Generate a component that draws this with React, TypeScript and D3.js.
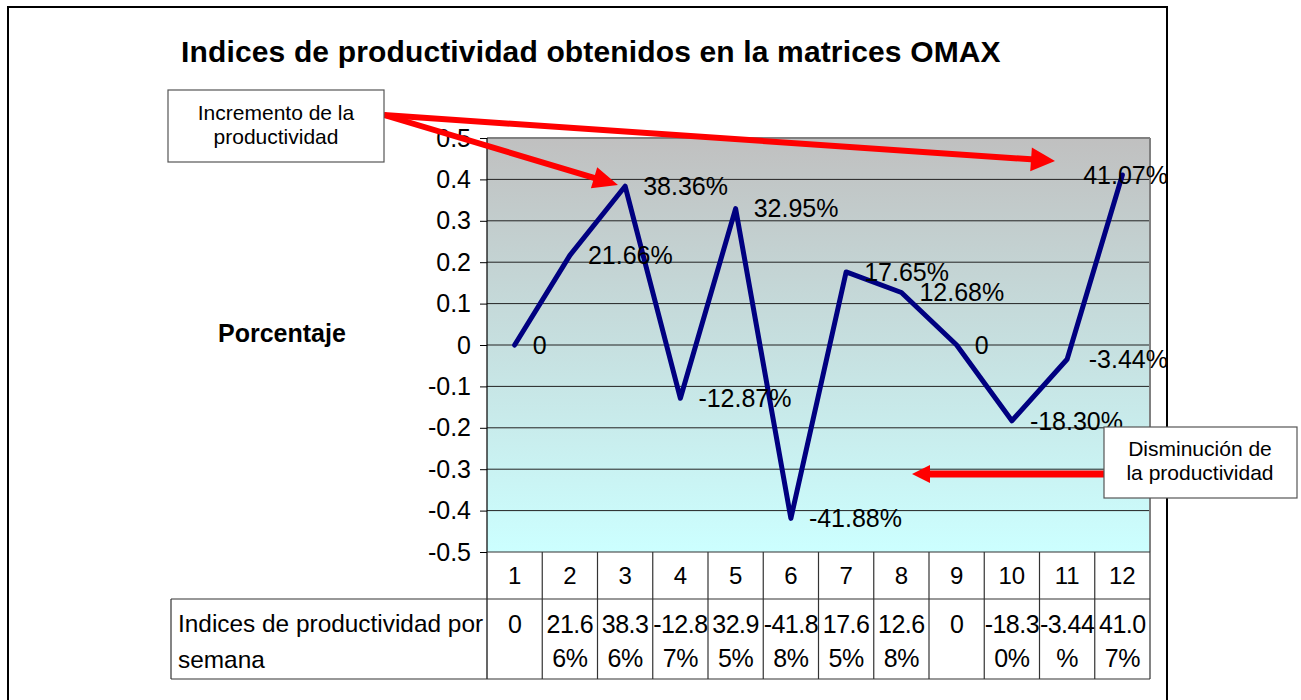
import { useRef, useEffect } from "react";
import * as d3 from "d3";

// weeks and productivity index per week
const weeks = ["1", "2", "3", "4", "5", "6", "7", "8", "9", "10", "11", "12"];
const indices = [0, 0.2166, 0.3836, -0.1287, 0.3295, -0.4188, 0.1765, 0.1268, 0, -0.183, -0.0344, 0.4107];
const yTickValues = [-0.5, -0.4, -0.3, -0.2, -0.1, 0, 0.1, 0.2, 0.3, 0.4, 0.5];

const title = "Indices de productividad obtenidos en la matrices OMAX";
const yTitle = "Porcentaje";
const rowHeader = ["Indices de productividad por", "semana"];
const upNote = ["Incremento de la", "productividad"];
const downNote = ["Disminución de", "la productividad"];

const FONT = "'Liberation Sans', Arial, sans-serif";

const frame = { left: 8, top: 7, right: 1167 };
const plot = { left: 487, right: 1150, top: 138, bottom: 552 };
const rowTop = 599,
  rowBottom = 679,
  tableLeft = 171;

const fmt = (v: number) => (v === 0 ? "0" : (v * 100).toFixed(2) + "%");

function arrowPoints(x1: number, y1: number, x2: number, y2: number, shaft: number, headLen: number, headW: number) {
  const dx = x2 - x1,
    dy = y2 - y1,
    L = Math.hypot(dx, dy);
  const ux = dx / L,
    uy = dy / L,
    nx = -uy,
    ny = ux;
  const bx = x2 - ux * headLen,
    by = y2 - uy * headLen;
  const s = shaft / 2,
    h = headW / 2;
  return [
    [x1 + nx * s, y1 + ny * s],
    [bx + nx * s, by + ny * s],
    [bx + nx * h, by + ny * h],
    [x2, y2],
    [bx - nx * h, by - ny * h],
    [bx - nx * s, by - ny * s],
    [x1 - nx * s, y1 - ny * s],
  ]
    .map((p) => p.join(","))
    .join(" ");
}

export default function App() {
  const gy = useRef<SVGGElement>(null);

  const x = d3.scaleBand().domain(weeks).range([plot.left, plot.right]);
  const y = d3.scaleLinear().domain([-0.5, 0.5]).range([plot.bottom, plot.top]);
  const bw = x.bandwidth();
  const cx = (i: number) => (x(weeks[i]) as number) + bw / 2;

  const line = d3
    .line<number>()
    .x((_, i) => cx(i))
    .y((d) => y(d));

  useEffect(() => {
    const g = d3.select(gy.current);
    g.call(
      d3
        .axisLeft(y)
        .tickValues(yTickValues)
        .tickSize(7)
        .tickPadding(9)
        .tickFormat((d) => String(+(+d).toFixed(1)))
    );
    g.select(".domain").remove();
    g.selectAll(".tick line").attr("stroke", "#000");
    g.selectAll(".tick text")
      .attr("font-size", 25)
      .attr("font-family", FONT)
      .attr("fill", "#000");
  }, []);

  const cellText = (v: number) => {
    const s = fmt(v);
    if (s === "0") return [s, ""];
    const cut = s.startsWith("-") ? 5 : 4;
    return [s.slice(0, cut), s.slice(cut)];
  };

  return (
    <svg
      width={1301}
      height={700}
      style={{ position: "absolute", left: 0, top: 0, background: "#fff" }}
      fontFamily={FONT}
    >
      <defs>
        <linearGradient id="plotBg" x1="0" y1="0" x2="0" y2="1">
          <stop offset="0" stopColor="#c0c0c0" />
          <stop offset="1" stopColor="#ccffff" />
        </linearGradient>
        {weeks.map((w) => (
          <clipPath id={`cell-${w}`} key={w}>
            <rect x={x(w)} y={rowTop} width={bw} height={rowBottom - rowTop} />
          </clipPath>
        ))}
      </defs>

      {/* outer chart frame */}
      <rect
        x={frame.left}
        y={frame.top}
        width={frame.right - frame.left}
        height={740}
        fill="#fff"
        stroke="#000"
        strokeWidth={2}
      />

      <text
        x={(frame.left + frame.right) / 2 + 3}
        y={62}
        textAnchor="middle"
        fontSize={30}
        fontWeight="bold"
        letterSpacing={-0.6}
        textLength={819}
        lengthAdjust="spacing"
      >
        {title}
      </text>

      {/* plot area */}
      <rect
        x={plot.left}
        y={plot.top}
        width={plot.right - plot.left}
        height={plot.bottom - plot.top}
        fill="url(#plotBg)"
      />
      {yTickValues
        .filter((t) => t > -0.5 && t < 0.5)
        .map((t) => (
          <line key={t} x1={plot.left} x2={plot.right} y1={y(t)} y2={y(t)} stroke="#222" strokeWidth={1} />
        ))}
      <line x1={plot.left} x2={plot.right} y1={plot.top} y2={plot.top} stroke="#808080" strokeWidth={2} />
      <line x1={plot.right} x2={plot.right} y1={plot.top} y2={plot.bottom} stroke="#808080" strokeWidth={2} />
      <line x1={plot.left} x2={plot.left} y1={plot.top} y2={rowBottom} stroke="#000" strokeWidth={1.2} />
      <g ref={gy} transform={`translate(${plot.left},0)`} />

      <text x={218} y={342} fontSize={25} fontWeight="bold">
        {yTitle}
      </text>

      {/* data table */}
      <g stroke="#333" strokeWidth={1.2}>
        <line x1={plot.left} x2={plot.right} y1={plot.bottom} y2={plot.bottom} />
        <line x1={tableLeft} x2={plot.right} y1={rowTop} y2={rowTop} />
        <line x1={tableLeft} x2={plot.right} y1={rowBottom} y2={rowBottom} />
        <line x1={tableLeft} x2={tableLeft} y1={rowTop} y2={rowBottom} />
        {weeks.map((w) => (
          <line key={w} x1={(x(w) as number) + bw} x2={(x(w) as number) + bw} y1={plot.bottom} y2={rowBottom} />
        ))}
      </g>
      {weeks.map((w, i) => (
        <text key={w} x={cx(i)} y={584} textAnchor="middle" fontSize={24}>
          {w}
        </text>
      ))}
      {rowHeader.map((t, i) => (
        <text key={t} x={178} y={632 + i * 36} fontSize={24.4}>
          {t}
        </text>
      ))}
      {indices.map((v, i) => {
        const [a, b] = cellText(v);
        return (
          <g key={i} clipPath={`url(#cell-${weeks[i]})`} fontSize={25} letterSpacing={-0.5} textAnchor="middle">
            <text x={cx(i)} y={633}>
              {a}
            </text>
            <text x={cx(i)} y={667}>
              {b}
            </text>
          </g>
        );
      })}

      {/* series */}
      <path
        d={line(indices) as string}
        fill="none"
        stroke="#000080"
        strokeWidth={5}
        strokeLinejoin="round"
        strokeLinecap="round"
      />
      {indices.map((v, i) => {
        const s = fmt(v);
        const start = cx(i) + 18;
        const tooWide = start + s.length * 0.56 * 25 > frame.right;
        return (
          <text
            key={i}
            x={tooWide ? frame.right + 1 : start}
            y={y(v)}
            dy="0.35em"
            fontSize={25}
            textAnchor={tooWide ? "end" : "start"}
          >
            {s}
          </text>
        );
      })}

      {/* annotation arrows */}
      <g fill="#ff0000">
        <polygon points={arrowPoints(384, 115, 1055, 161, 6, 24, 24)} />
        <polygon points={arrowPoints(384, 115, 618, 185, 6, 25, 22)} />
        <polygon points={arrowPoints(1104, 474, 912, 474, 7, 18, 18)} />
      </g>

      <rect x={168} y={90} width={216} height={72} fill="#fff" stroke="#555" strokeWidth={1.2} />
      {upNote.map((t, i) => (
        <text key={t} x={276} y={120 + i * 24} textAnchor="middle" fontSize={21}>
          {t}
        </text>
      ))}
      <rect x={1104} y={427} width={193} height={71} fill="#fff" stroke="#555" strokeWidth={1.2} />
      {downNote.map((t, i) => (
        <text key={t} x={1200} y={456 + i * 24} textAnchor="middle" fontSize={21}>
          {t}
        </text>
      ))}
    </svg>
  );
}
